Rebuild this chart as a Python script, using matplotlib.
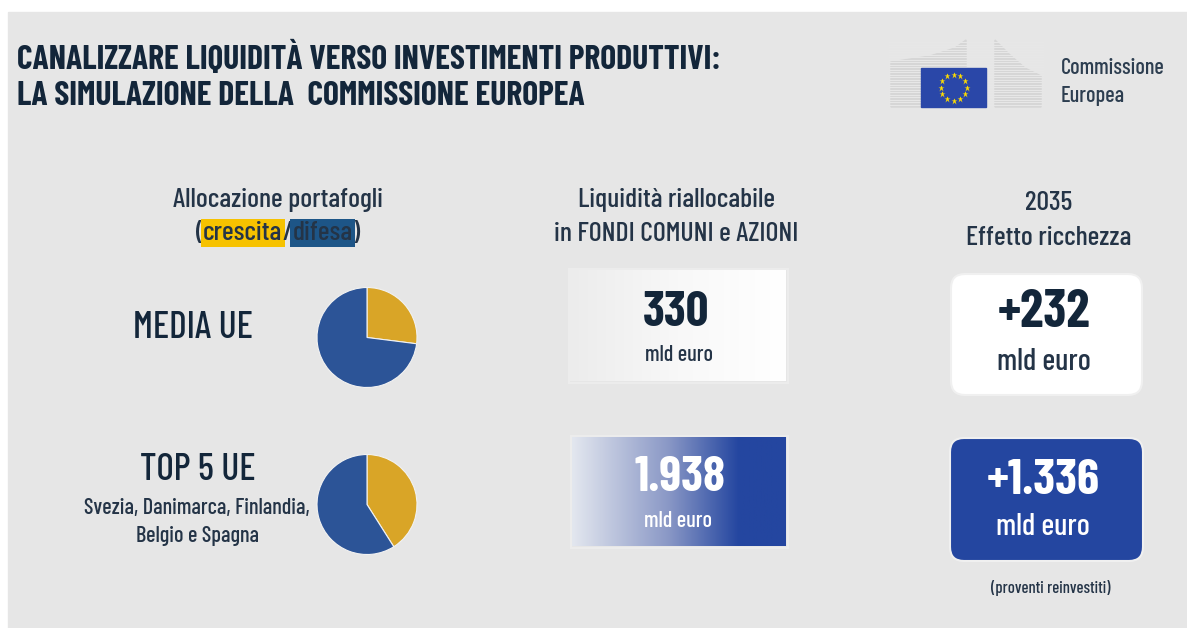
import numpy as np
import matplotlib
matplotlib.use("Agg")
import matplotlib.pyplot as plt
from matplotlib.patches import Rectangle, FancyBboxPatch, Polygon
from matplotlib.colors import LinearSegmentedColormap

# data
righe = ["MEDIA UE", "TOP 5 UE"]
crescita = [27, 41]
difesa = [73, 59]
liquidita = ["330", "1.938"]
effetto = ["+232", "+1.336"]
paesi_top5 = "Svezia, Danimarca, Finlandia,\nBelgio e Spagna"

W, H = 1187, 628
plt.rcParams["font.family"] = ["Barlow Condensed", "DejaVu Sans"]

DARK = "#13263a"
TXT = "#243447"
BLUE = "#2446a0"
PIE_BLUE = "#2c5497"
PIE_YEL = "#d9a527"

fig = plt.figure(figsize=(W / 100, H / 100), dpi=100)
ax = fig.add_axes([0, 0, 1, 1])
ax.set_xlim(0, W)
ax.set_ylim(H, 0)
ax.axis("off")

# grey panel
ax.add_patch(Rectangle((8, 12), W - 8, H - 12, color="#e6e6e6", zorder=0))

# title
ax.text(17, 58, "CANALIZZARE LIQUIDITÀ VERSO INVESTIMENTI PRODUTTIVI:",
        fontsize=24.2, weight="bold", color=DARK, va="center")
ax.text(17, 96, "LA SIMULAZIONE DELLA  COMMISSIONE EUROPEA",
        fontsize=24.2, weight="bold", color=DARK, va="center")

# logo
left_wing = [(891, 62), (930, 56), (955, 48), (966, 40), (966, 107), (891, 107)]
right_wing = [(995, 40), (1010, 55), (1025, 68), (1041, 76), (1041, 107), (995, 107)]
for pts in (left_wing, right_wing):
    ax.add_patch(Polygon(pts, closed=True, color="#d6d6d6", zorder=1))
for y in np.arange(42, 107, 2.5):
    ax.plot([889, 1043], [y, y], color="#e8e8e8", lw=0.7, zorder=1.5)
ax.add_patch(Rectangle((921, 68), 65, 39, color="#2a47a8", zorder=2))
ang = np.linspace(0, 2 * np.pi, 13)[:-1]
ax.plot(953.5 + 13 * np.cos(ang), 87.5 + 13 * np.sin(ang), "*",
        color="#ffdd00", ms=5, mec="none", zorder=3)
ax.text(1061, 68, "Commissione", fontsize=16, weight="medium", color="#2d3e50", va="center")
ax.text(1061, 96, "Europea", fontsize=16, weight="medium", color="#2d3e50", va="center")

# column headers
hk = dict(fontsize=20, weight="medium", color=TXT, ha="center", va="center")
ax.text(278, 200, "Allocazione portafogli", **hk)
ax.text(676, 200, "Liquidità riallocabile", **hk)
ax.text(676, 234, "in FONDI COMUNI e AZIONI", **hk)
ax.text(1049, 203, "2035", **hk)
ax.text(1049, 238, "Effetto ricchezza", **hk)

# (crescita/difesa) with highlights
pezzi = [("(", None), ("crescita", "#f6c200"), ("/", None), ("difesa", "#1d5587"), (")", None)]
r = fig.canvas.get_renderer()
larg = []
for s, c in pezzi:
    t = ax.text(0, 0, s, fontsize=20, weight="medium")
    larg.append(t.get_window_extent(r).width)
    t.remove()
x = 278 - sum(larg) / 2
for (s, c), w in zip(pezzi, larg):
    kw = {}
    if c:
        kw["bbox"] = dict(boxstyle="square,pad=0.08", fc=c, ec="none")
    ax.text(x, 233, s, fontsize=20, weight="medium", color=TXT, va="center", **kw)
    x += w

# row labels
ax.text(193, 328, righe[0], fontsize=27, weight="medium", color=DARK, ha="center", va="center")
ax.text(198, 470, righe[1], fontsize=27, weight="medium", color=DARK, ha="center", va="center")
ax.text(197, 522, paesi_top5, fontsize=16, weight="medium", color=TXT, ha="center",
        va="center", linespacing=1.45)

# pies
centri = [(367, 337.5), (367, 504.5)]
for (cx, cy), g, d in zip(centri, crescita, difesa):
    pa = fig.add_axes([(cx - 55) / W, 1 - (cy + 55) / H, 110 / W, 110 / H])
    pa.pie([g, d], colors=[PIE_YEL, PIE_BLUE], startangle=90, counterclock=False,
           radius=1, wedgeprops=dict(edgecolor="#f2f2f2", linewidth=0.8))
    pa.set_xlim(-1.1, 1.1)
    pa.set_ylim(-1.1, 1.1)
    pa.set_aspect("equal")

# middle gradient boxes
cm1 = LinearSegmentedColormap.from_list("g1", ["#ececec", "#f8f8f8", "#ffffff"])
cm2 = LinearSegmentedColormap.from_list("g2", [(0, "#e3e7ef"), (0.45, "#8a98c6"),
                                               (0.78, BLUE), (1, BLUE)])
grad = np.linspace(0, 1, 256).reshape(1, -1)
boxes_mid = [(570, 270, 786, 381, cm1), (572, 437, 786, 546, cm2)]
for x0, y0, x1, y1, cm in boxes_mid:
    ax.add_patch(Rectangle((x0 - 1.5, y0 - 1.5), x1 - x0 + 3, y1 - y0 + 3,
                           fc="none", ec="#ececec", lw=1.5, zorder=1.8))
    ax.imshow(grad, cmap=cm, extent=(x0, x1, y1, y0), aspect="auto", zorder=2)
ax.text(676, 313, liquidita[0], fontsize=36, weight="bold", color=DARK, ha="center", va="center", zorder=3)
ax.text(679, 355, "mld euro", fontsize=16, weight="medium", color=TXT, ha="center", va="center", zorder=3)
ax.text(680, 478, liquidita[1], fontsize=36, weight="bold", color="white", ha="center", va="center", zorder=3)
ax.text(678, 521, "mld euro", fontsize=16, weight="medium", color="white", ha="center", va="center", zorder=3)

# right rounded boxes
ax.add_patch(FancyBboxPatch((951, 274), 191, 121, boxstyle="round,pad=0,rounding_size=14",
                            fc="white", ec="#f0f0f0", lw=1.5, zorder=2))
ax.add_patch(FancyBboxPatch((950, 438), 193, 123, boxstyle="round,pad=0,rounding_size=14",
                            fc=BLUE, ec="#f0f0f0", lw=1.5, zorder=2))
ax.text(1044, 313, effetto[0], fontsize=38, weight="bold", color=DARK, ha="center", va="center", zorder=3)
ax.text(1044, 362, "mld euro", fontsize=22, weight="medium", color=TXT, ha="center", va="center", zorder=3)
ax.text(1043, 481, effetto[1], fontsize=36, weight="bold", color="white", ha="center", va="center", zorder=3)
ax.text(1043, 527, "mld euro", fontsize=22, weight="medium", color="white", ha="center", va="center", zorder=3)
ax.text(1051, 588, "(proventi reinvestiti)", fontsize=12, weight="medium", color=TXT, ha="center", va="center")

fig.savefig("out.png", dpi=100)
